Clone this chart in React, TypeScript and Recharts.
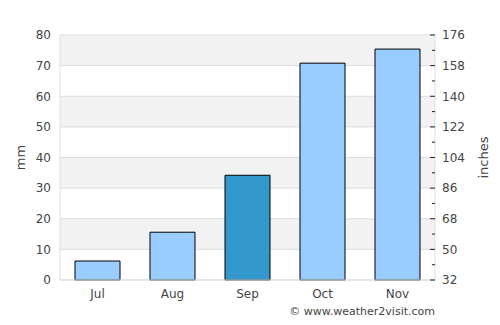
import React from 'react';
import { BarChart, Bar, XAxis, YAxis, CartesianGrid, Cell } from 'recharts';

// monthly rainfall (mm)
const months = ['Jul', 'Aug', 'Sep', 'Oct', 'Nov'];
const rainfallMm = [6.2, 15.6, 34.2, 70.8, 75.4];
const highlightMonth = 'Sep';

const mmTicks = [0, 10, 20, 30, 40, 50, 60, 70, 80];
// right axis: major ticks labelled, minor ticks in between
const rightTicks = [32, 41, 50, 59, 68, 77, 86, 95, 104, 113, 122, 131, 140, 149, 158, 167, 176];
const rightLabels = [32, 50, 68, 86, 104, 122, 140, 158, 176];

const data = months.map((m, i) => ({ month: m, rain: rainfallMm[i] }));

const textColor = '#444';

const renderRightTick = (props: any) => {
  const { x, y, payload } = props;
  const major = rightLabels.includes(payload.value);
  return (
    <g key={`rt-${payload.value}`}>
      <line x1={x - (major ? 5 : 3)} x2={x} y1={y} y2={y} stroke="#222" />
      {major && (
        <text x={x + 7} y={y} dy="0.36em" textAnchor="start" fontSize={12} fill={textColor}>
          {payload.value}
        </text>
      )}
    </g>
  );
};

const axisTitle = (value: string, dx: number) => (props: any) => {
  const vb = props.viewBox;
  const cx = vb.x + dx;
  const cy = vb.y + vb.height / 2;
  return (
    <text
      x={cx}
      y={cy}
      transform={`rotate(-90, ${cx}, ${cy})`}
      textAnchor="middle"
      dominantBaseline="central"
      fontSize={13}
      fill={textColor}
    >
      {value}
    </text>
  );
};

export default function App() {
  return (
    <div
      style={{
        position: 'absolute',
        left: 0,
        top: 0,
        width: 500,
        height: 325,
        background: '#fff',
        fontFamily: '"DejaVu Sans", sans-serif',
      }}
    >
      <BarChart
        width={500}
        height={325}
        data={data}
        margin={{ top: 35, right: 0, bottom: 15, left: 10 }}
        barCategoryGap="20%"
      >
        <CartesianGrid
          yAxisId="left"
          vertical={false}
          stroke="#ddd"
          horizontalFill={['#f2f2f2', '#ffffff']}
          fillOpacity={1}
        />
        <XAxis
          dataKey="month"
          height={30}
          axisLine={{ stroke: '#ddd' }}
          tickLine={false}
          tickSize={0}
          tickMargin={9}
          tick={{ fontSize: 12, fill: textColor }}
        />
        <YAxis
          yAxisId="left"
          width={50}
          domain={[0, 80]}
          ticks={mmTicks}
          axisLine={{ stroke: '#ddd' }}
          tickLine={false}
          tickSize={0}
          tickMargin={9}
          tick={{ fontSize: 12, fill: textColor }}
          label={{ content: axisTitle('mm', 10) }}
        />
        <YAxis
          yAxisId="right"
          orientation="right"
          type="number"
          width={65}
          domain={[32, 176]}
          allowDataOverflow
          ticks={rightTicks}
          interval={0}
          axisLine={{ stroke: '#ddd' }}
          tickLine={false}
          tickSize={0}
          tickMargin={0}
          tick={renderRightTick}
          label={{ content: axisTitle('inches', 48) }}
        />
        <Bar yAxisId="left" dataKey="rain" stroke="#000" strokeWidth={1} isAnimationActive={false}>
          {data.map((d) => (
            <Cell key={d.month} fill={d.month === highlightMonth ? '#3399cc' : '#99ccff'} />
          ))}
        </Bar>
      </BarChart>
      <div
        style={{
          position: 'absolute',
          left: 0,
          top: 306,
          width: 435,
          textAlign: 'right',
          fontSize: 11,
          lineHeight: '11px',
          color: textColor,
        }}
      >
        © www.weather2visit.com
      </div>
    </div>
  );
}
